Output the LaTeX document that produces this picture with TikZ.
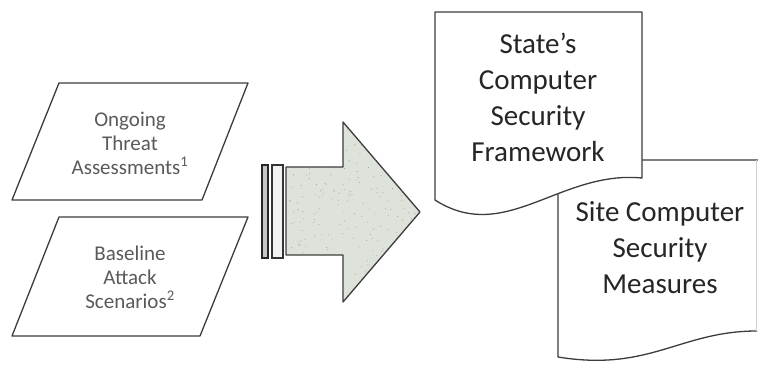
\documentclass[tikz,border=0pt]{standalone}
\usepackage{fontspec}
\setmainfont{Carlito}
\usepackage{tikz}

\definecolor{edgegray}{HTML}{3C3C3C}
\definecolor{arrowfill}{HTML}{DDE3DB}
\definecolor{inputtext}{HTML}{5A5A5A}

\begin{document}
\begin{tikzpicture}[x=1pt, y=-1pt,
  outline/.style={draw=edgegray, line width=1.3pt, line join=round},
  inputlbl/.style={align=center, text=inputtext, font=\fontsize{21}{24}\selectfont},
  doclbl/.style={align=center, text=black!85, font=\fontsize{29}{36}\selectfont}]
\useasboundingbox (0,0) rectangle (758,367);

% input parallelograms
\draw[outline, fill=white] (59,83) -- (248,83) -- (202,200) -- (12,200) -- cycle;
\draw[outline, fill=white] (59,217) -- (248,217) -- (200,336) -- (12,336) -- cycle;
\node [inputlbl] (ongoing) at (130,143) {Ongoing\\Threat\\Assessments\textsuperscript{1}};
\node [inputlbl] (baseline) at (130,277) {Baseline\\Attack\\Scenarios\textsuperscript{2}};

% striped tail and block arrow
\draw[draw=black!85, line width=1.8pt, fill=gray!45] (262,165) rectangle (268,258);
\draw[draw=black!80, line width=1.3pt, fill=gray!10] (272,165) rectangle (283,258);
\draw[outline, fill=arrowfill] (286,167) -- (343,167) -- (343,122) -- (420,212)
  -- (343,302) -- (343,255) -- (286,255) -- cycle;
\begin{scope}
\clip (286,167) -- (343,167) -- (343,122) -- (420,212)
  -- (343,302) -- (343,255) -- (286,255) -- cycle;
\pgfmathsetseed{42}
\foreach \i in {1,...,260}
  \fill[gray!70] ({288+130*rnd},{124+176*rnd}) circle (0.55);
\end{scope}

% site document (behind)
\fill[white] (558,160) -- (757,160) -- (757,331)
  .. controls (680,331) and (650,372) .. (558,357) -- cycle;
\draw[outline] (757,331) .. controls (680,331) and (650,372) .. (558,357)
  -- (558,160) -- (758,160);
\draw[gray!35, line width=1pt] (756,160) -- (756,331);
\node [doclbl] (sitecsm) at (660,248) {Site Computer\\Security\\Measures};

% state document (front)
\draw[outline, fill=white] (435,12) -- (642,12) -- (642,178)
  .. controls (560,170) and (505,245) .. (435,200) -- cycle;
\node [doclbl] (statefw) at (538,97) {State's\\Computer\\Security\\Framework};
\end{tikzpicture}
\end{document}
